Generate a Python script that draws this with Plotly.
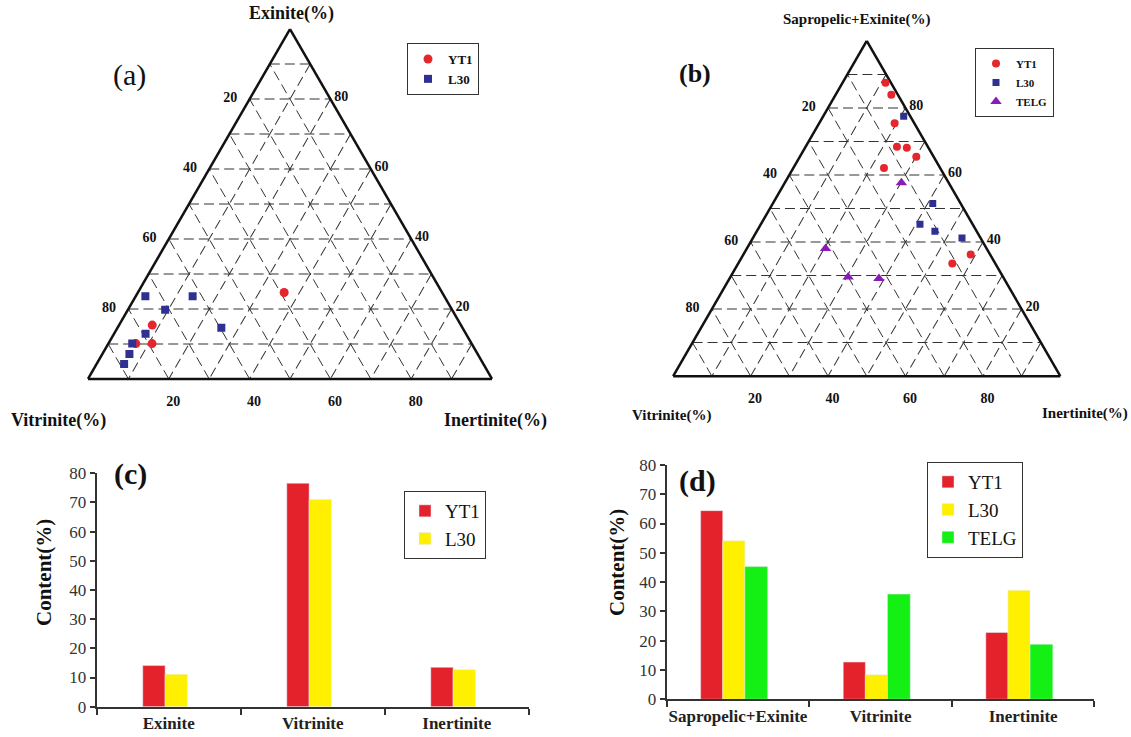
import plotly.graph_objects as go

W, H = 1131, 737
SERIF = "Liberation Serif"

# ---------------- Panel (a): ternary Exinite / Vitrinite / Inertinite (%)
a_yt1_exinite = [24.7, 15.4, 10.1, 10.1]
a_yt1_vitrinite = [39.1, 76.4, 83.1, 79.1]
a_yt1_inertinite = [36.2, 8.2, 6.8, 10.8]

a_l30_exinite = [23.6, 23.6, 19.8, 12.9, 14.6, 10.1, 7.1, 4.3]
a_l30_vitrinite = [74.0, 62.3, 71.0, 79.3, 59.7, 84.0, 86.2, 89.0]
a_l30_inertinite = [2.4, 14.1, 9.2, 7.8, 25.7, 5.9, 6.7, 6.8]

# ---------------- Panel (b): ternary Sapropelic+Exinite / Vitrinite / Inertinite (%)
b_yt1_sapex = [87.5, 83.9, 75.4, 68.4, 68.1, 65.4, 62.1, 36.3, 33.6]
b_yt1_vitrinite = [1.4, 1.7, 5.1, 8.0, 5.6, 4.5, 14.5, 5.0, 11.1]
b_yt1_inertinite = [11.1, 14.4, 19.5, 23.6, 26.3, 30.1, 23.4, 58.7, 55.3]

b_l30_sapex = [77.5, 51.5, 45.3, 43.2, 41.2]
b_l30_vitrinite = [1.7, 7.2, 13.6, 10.8, 4.8]
b_l30_inertinite = [20.8, 41.3, 41.1, 46.0, 54.0]

b_telg_sapex = [57.7, 38.1, 29.6, 29.1]
b_telg_vitrinite = [12.2, 41.6, 40.0, 32.3]
b_telg_inertinite = [30.1, 20.3, 30.4, 38.6]

# ternary grid every 10 %, labels every 20 % (labels read along each edge)
tern_tickvals = [10, 20, 30, 40, 50, 60, 70, 80, 90]
tern_ticktext = ["", "80", "", "60", "", "40", "", "20", ""]

# ---------------- Panel (c): bar chart
c_categories = ["Exinite", "Vitrinite", "Inertinite"]
c_yt1 = [14.1, 76.6, 13.5]
c_l30 = [11.1, 71.0, 12.7]

# ---------------- Panel (d): bar chart
d_categories = ["Sapropelic+Exinite", "Vitrinite", "Inertinite"]
d_yt1 = [64.4, 12.7, 22.8]
d_l30 = [54.1, 8.4, 37.2]
d_telg = [45.3, 35.9, 18.8]

RED = "#E5262C"
NAVY = "#2E3191"
PURPLE = "#8A1CB5"
BAR_RED = "#E3222B"
BAR_YELLOW = "#FFF000"
BAR_GREEN = "#14F014"

fig = go.Figure()

# (a) scatter
fig.add_trace(go.Scatterternary(
    a=a_yt1_exinite, b=a_yt1_vitrinite, c=a_yt1_inertinite, mode="markers", name="YT1",
    subplot="ternary", legend="legend", legendgroup="a1",
    marker=dict(symbol="circle", size=9, color=RED)))
fig.add_trace(go.Scatterternary(
    a=a_l30_exinite, b=a_l30_vitrinite, c=a_l30_inertinite, mode="markers", name="L30",
    subplot="ternary", legend="legend", legendgroup="a2",
    marker=dict(symbol="square", size=8, color=NAVY)))

# (b) scatter
fig.add_trace(go.Scatterternary(
    a=b_yt1_sapex, b=b_yt1_vitrinite, c=b_yt1_inertinite, mode="markers", name="YT1",
    subplot="ternary2", legend="legend2",
    marker=dict(symbol="circle", size=8, color=RED)))
fig.add_trace(go.Scatterternary(
    a=b_l30_sapex, b=b_l30_vitrinite, c=b_l30_inertinite, mode="markers", name="L30",
    subplot="ternary2", legend="legend2",
    marker=dict(symbol="square", size=7, color=NAVY)))
fig.add_trace(go.Scatterternary(
    a=b_telg_sapex, b=b_telg_vitrinite, c=b_telg_inertinite, mode="markers", name="TELG",
    subplot="ternary2", legend="legend2",
    marker=dict(symbol="triangle-up", size=10, color=PURPLE)))

# (c) bars
fig.add_trace(go.Bar(x=c_categories, y=c_yt1, name="YT1", marker_color=BAR_RED,
                     offset=-0.18, width=0.155, xaxis="x", yaxis="y", legend="legend3"))
fig.add_trace(go.Bar(x=c_categories, y=c_l30, name="L30", marker_color=BAR_YELLOW,
                     offset=-0.025, width=0.155, xaxis="x", yaxis="y", legend="legend3"))

# (d) bars
fig.add_trace(go.Bar(x=d_categories, y=d_yt1, name="YT1", marker_color=BAR_RED,
                     offset=-0.262, width=0.155, xaxis="x2", yaxis="y2", legend="legend4"))
fig.add_trace(go.Bar(x=d_categories, y=d_l30, name="L30", marker_color=BAR_YELLOW,
                     offset=-0.107, width=0.155, xaxis="x2", yaxis="y2", legend="legend4"))
fig.add_trace(go.Bar(x=d_categories, y=d_telg, name="TELG", marker_color=BAR_GREEN,
                     offset=0.048, width=0.16, xaxis="x2", yaxis="y2", legend="legend4"))


def tern_axis(fsize, ticklen):
    return dict(
        tickmode="array", tickvals=tern_tickvals, ticktext=tern_ticktext,
        ticks="outside", ticklen=ticklen, tickcolor="rgba(0,0,0,0)",
        showgrid=True, gridcolor="#333333", gridwidth=1.3, griddash="10px,5px",
        showline=True, linecolor="#111111", linewidth=2.5,
        tickfont=dict(family=SERIF, size=fsize, color="#111111", weight="bold"),
        title=dict(text=""), layer="below traces", min=0,
    )


def bar_yaxis(domain, anchor):
    return dict(domain=domain, anchor=anchor, range=[0, 80], dtick=10, tick0=0,
                showgrid=False, zeroline=False, showline=True, linecolor="#333333",
                linewidth=2, ticks="outside", ticklen=5, tickwidth=1.5, tickcolor="#333333",
                tickfont=dict(family=SERIF, size=17, color="#333333"),
                automargin=False, fixedrange=True)


def bar_xaxis(domain, anchor):
    return dict(domain=domain, anchor=anchor, type="category", showgrid=False,
                zeroline=False, showline=True, linecolor="#333333", linewidth=2,
                ticks="outside", tickson="boundaries", ticklen=6, tickwidth=1.5,
                tickcolor="#333333", tickangle=0, automargin=False,
                tickfont=dict(family=SERIF, size=17, color="#222222", weight="bold"))


def px_x(v):
    return v / W


def px_y(v):
    return 1 - v / H


def ann(text, x, y, size, bold=True, angle=0):
    return dict(text=text, x=px_x(x), y=px_y(y), xref="paper", yref="paper",
                showarrow=False, textangle=angle, xanchor="center", yanchor="middle",
                font=dict(family=SERIF, size=size, color="#111111",
                          weight="bold" if bold else "normal"))


def legend_box(x, y, fsize, gap=0):
    return dict(x=px_x(x), y=px_y(y), xanchor="left", yanchor="top",
                bgcolor="white", bordercolor="#333333", borderwidth=1,
                font=dict(family=SERIF, size=fsize, color="#111111"),
                tracegroupgap=gap, itemwidth=30, traceorder="normal")


leg_a = legend_box(407, 43, 13, gap=10)
leg_a["font"]["weight"] = "bold"
leg_b = legend_box(975, 48, 11)
leg_b["font"]["weight"] = "bold"

fig.update_layout(
    width=W, height=H, margin=dict(l=0, r=0, t=0, b=0, autoexpand=False),
    paper_bgcolor="white", plot_bgcolor="white",
    barmode="overlay", showlegend=True,
    ternary=dict(domain=dict(x=[0.07781, 0.43501], y=[0.4732, 0.9732]), sum=100,
                 bgcolor="white",
                 aaxis=tern_axis(14, 9), baxis=tern_axis(14, 9), caxis=tern_axis(14, 1)),
    ternary2=dict(domain=dict(x=[0.5952, 0.9375], y=[0.4671, 0.9671]), sum=100,
                  bgcolor="white",
                  aaxis=tern_axis(14, 9), baxis=tern_axis(14, 9), caxis=tern_axis(14, 1)),
    xaxis=bar_xaxis([0.0855, 0.4675], "y"),
    yaxis=bar_yaxis([0.0411, 0.3578], "x"),
    xaxis2=bar_xaxis([0.5895, 0.9677], "y2"),
    yaxis2=bar_yaxis([0.0512, 0.3691], "x2"),
    legend=leg_a,
    legend2=leg_b,
    legend3=legend_box(404, 491, 19),
    legend4=legend_box(927, 462, 19),
    annotations=[
        ann("(a)", 129, 75, 30, bold=False),
        ann("Exinite(%)", 291, 13, 18),
        ann("Vitrinite(%)", 58, 421, 18),
        ann("Inertinite(%)", 495, 421, 18),
        ann("(b)", 695, 73, 26),
        ann("Sapropelic+Exinite(%)", 857, 20, 15),
        ann("Vitrinite(%)", 671, 415, 15),
        ann("Inertinite(%)", 1085, 413, 15),
        ann("(c)", 130, 474, 30),
        ann("Content(%)", 44, 573, 21, angle=-90),
        ann("(d)", 697, 481, 30),
        ann("Content(%)", 617, 563, 21, angle=-90),
    ],
)

fig.write_html("out.html")
